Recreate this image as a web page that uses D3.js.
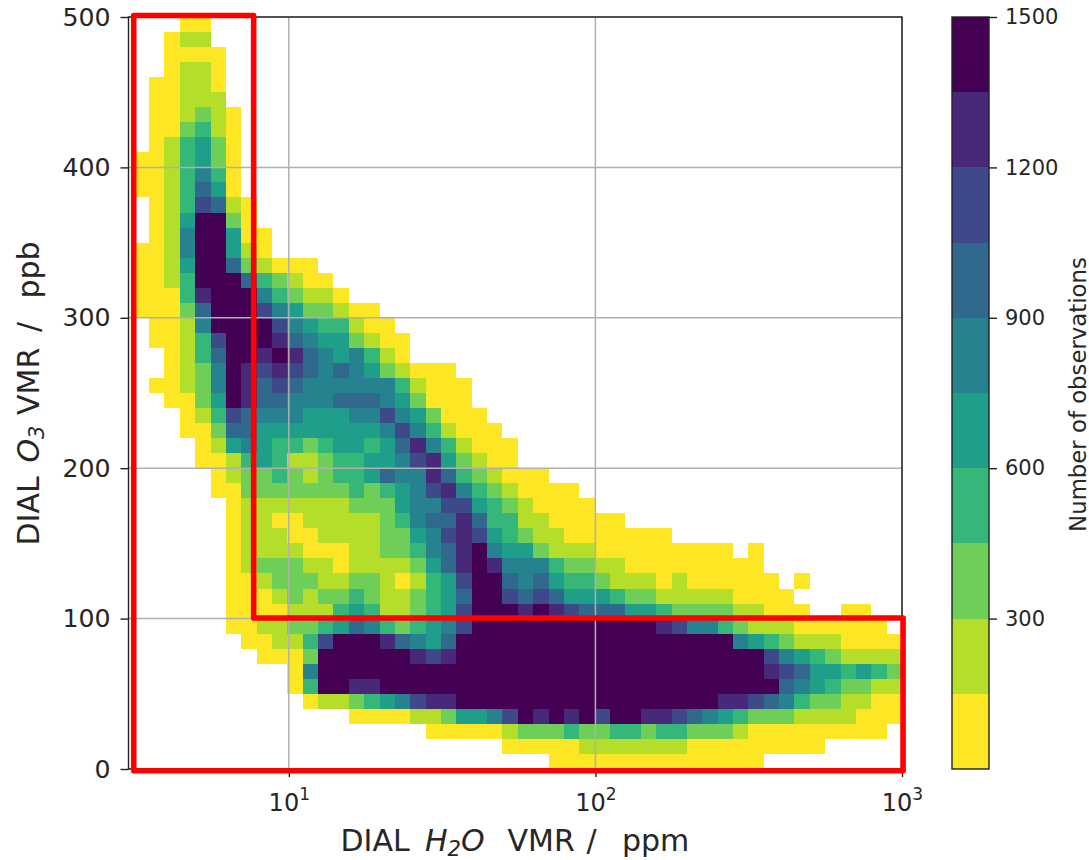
<!DOCTYPE html>
<html>
<head>
<meta charset="utf-8">
<script src="https://cdn.jsdelivr.net/npm/d3@7"></script>
<style>
    html, body { margin: 0; padding: 0; background: #fff; }
    svg { display: block; }
    text { font-family: "DejaVu Sans", sans-serif; fill: #262626; }
</style>
</head>
<body>
<svg id="chart" width="1089" height="860"></svg>
<script>
// band index per cell (0 = empty, 1..9 and a = 10), top row (490-500 ppb) first
const bandRows = [
    "00011",
    "00122",
    "001111",
    "001221",
    "011221",
    "011222",
    "0112321",
    "0113421",
    "0124531",
    "1124531",
    "1124641",
    "1124751",
    "01248721",
    "0125aa31",
    "0126aa511",
    "1126aa521",
    "1125aa732111",
    "1124aaa743211",
    "11149aaa643221",
    "11137aaa86533211",
    "01126aaaa86544211",
    "011248aaa976553211",
    "001247aa9a97656421",
    "001236a98987676532111",
    "011236a978766666642111",
    "001135a977666777653111",
    "00012487666555668653111",
    "000113775555555568642111",
    "0000125654434554579642111",
    "0000112454223445568953211",
    "000001233432344576697432111",
    "00000113333333434568964321111",
    "000000122222223335668854321111",
    "000000" + "1221122222" + "34677974422" + "11111",
    "000000" + "1222112222" + "335689854322" + "1111111",
    "000000" + "1222211122" + "334679a6553222" + "111111111" + "01",
    "000000" + "1233322122" + "223579a966643322" + "111111111",
    "000000" + "1123332233" + "212458aa767544322212" + "111111" + "01",
    "000000" + "1112323343" + "223457aa8787555433" + "22222" + "1111",
    "000000" + "1111" + "222454" + "223458aaa9a98777554" + "3333" + "22" + "111" + "00" + "11",
    "000000" + "1122334576" + "434568" + "aaaaaaaaaaaa" + "986643222" + "111111" + "0",
    "000000" + "0112248aaa" + "97657" + "aaaaaaaaaaaaaaaaaa" + "65432221111",
    "000000" + "001113aaaa" + "aa989" + "aaaaaaaaaaaaaaaaaaaa" + "865432222",
    "0000000000" + "16" + "aaaaaaaaaaaaaaaaaaaaaaaaaaaaa" + "987554543",
    "0000000000" + "14aa99" + "aaaaaaaaaaaaaaaaaaaaaaaaaa" + "76543322",
    "00000000000" + "12234" + "56899" + "aaaaaaaaaaaaaaaaa" + "998764332211",
    "00000000000000" + "11112235568a9a9a8aa" + "99876543332222111",
    "0000000000000000000" + "11111" + "2333433443443332" + "111111111" + "0",
    "000000000000000000000000" + "11111" + "2222222" + "111111111",
    "000000000000000000000000000" + "11111111111111"
];

const bandColors = ["#fde725", "#b5de2b", "#6ece58", "#35b779", "#1f9e89",
    "#26828e", "#31688e", "#3e4989", "#482878", "#440154"];
const colorTicks = [300, 600, 900, 1200, 1500];
const yTicks = [0, 100, 200, 300, 400, 500];
const xTicks = [10, 100, 1000];
const xBinCount = 50;
const xBinStart = 3.12;
const xBinEnd = 1000;
const ppbPerBin = 10;
const countPerBand = 150;

// the red L shaped outline, in data units
const outlineX = [3.12, 7.68, 7.68, 1008, 1008, 3.12];
const outlineY = [501, 501, 100.4, 100.4, -1.2, -1.2];

const plot = { left: 128.5, right: 902, top: 17, bottom: 769 };
const bar = { left: 952, right: 989 };

const svg = d3.select("#chart");

const x = d3.scaleLog().domain([3, 1000]).range([plot.left, plot.right]);
const y = d3.scaleLinear().domain([0, 500]).range([plot.bottom, plot.top]);
const cbar = d3.scaleLinear().domain([0, 1500]).range([plot.bottom, plot.top]);
const color = d3.scaleQuantize().domain([0, 1500]).range(bandColors);

let cells = [];
bandRows.forEach((row, r) => {
    row.split("").forEach((ch, c) => {
        let band = ch === "a" ? 10 : +ch;
        if (band === 0) return;
        cells.push({
            xBin: c,
            yBin: bandRows.length - 1 - r,
            count: band * countPerBand - countPerBand / 2
        });
    });
});

const binEdge = i => xBinStart * Math.pow(xBinEnd / xBinStart, i / xBinCount);

svg.append("g").selectAll("rect")
    .data(cells)
    .join("rect")
    .attr("x", d => x(binEdge(d.xBin)))
    .attr("width", d => x(binEdge(d.xBin + 1)) - x(binEdge(d.xBin)))
    .attr("y", d => y((d.yBin + 1) * ppbPerBin))
    .attr("height", d => y(d.yBin * ppbPerBin) - y((d.yBin + 1) * ppbPerBin))
    .attr("fill", d => color(d.count))
    .attr("shape-rendering", "crispEdges");

// grid sits on top of the cells
svg.append("g").selectAll("line")
    .data(xTicks)
    .join("line")
    .attr("x1", d => x(d)).attr("x2", d => x(d))
    .attr("y1", plot.top).attr("y2", plot.bottom)
    .attr("stroke", "#b0b0b0").attr("stroke-width", 1.5);
svg.append("g").selectAll("line")
    .data(yTicks)
    .join("line")
    .attr("x1", plot.left).attr("x2", plot.right)
    .attr("y1", d => y(d)).attr("y2", d => y(d))
    .attr("stroke", "#b0b0b0").attr("stroke-width", 1.5);

svg.append("rect")
    .attr("x", plot.left).attr("y", plot.top)
    .attr("width", plot.right - plot.left).attr("height", plot.bottom - plot.top)
    .attr("fill", "none").attr("stroke", "#222").attr("stroke-width", 1.4);

// axes
const xAxis = svg.append("g")
    .attr("transform", `translate(0,${plot.bottom})`)
    .call(d3.axisBottom(x).tickValues(xTicks).tickSize(8).tickPadding(6).tickFormat(""));
xAxis.select(".domain").remove();
xAxis.selectAll(".tick line").attr("stroke", "#222").attr("stroke-width", 1.4);
xAxis.selectAll(".tick").each(function (d) {
    let t = d3.select(this).select("text")
        .attr("font-size", 24)
        .attr("y", 41.7)
        .attr("dy", 0)
        .attr("text-anchor", "middle");
    t.append("tspan").text("10");
    t.append("tspan").attr("font-size", 17).attr("dy", -11).text(Math.log10(d));
});

const yAxis = svg.append("g")
    .attr("transform", `translate(${plot.left},0)`)
    .call(d3.axisLeft(y).tickValues(yTicks).tickSize(8).tickPadding(10));
yAxis.select(".domain").remove();
yAxis.selectAll(".tick line").attr("stroke", "#222").attr("stroke-width", 1.4);
yAxis.selectAll(".tick text").attr("font-size", 25.2);

// colorbar
svg.append("g").selectAll("rect")
    .data(bandColors)
    .join("rect")
    .attr("x", bar.left)
    .attr("width", bar.right - bar.left)
    .attr("y", (d, i) => cbar((i + 1) * countPerBand))
    .attr("height", (d, i) => cbar(i * countPerBand) - cbar((i + 1) * countPerBand))
    .attr("fill", d => d)
    .attr("shape-rendering", "crispEdges");
svg.append("rect")
    .attr("x", bar.left).attr("y", plot.top)
    .attr("width", bar.right - bar.left).attr("height", plot.bottom - plot.top)
    .attr("fill", "none").attr("stroke", "#222").attr("stroke-width", 1.4);

const cAxis = svg.append("g")
    .attr("transform", `translate(${bar.right},0)`)
    .call(d3.axisRight(cbar).tickValues(colorTicks).tickSize(8).tickPadding(8).tickFormat(d3.format("d")));
cAxis.select(".domain").remove();
cAxis.selectAll(".tick line").attr("stroke", "#222").attr("stroke-width", 1.4);
cAxis.selectAll(".tick text").attr("font-size", 21);

// labels, the word gaps are wider than normal spaces so each piece gets its own x
let xLabel = svg.append("text")
    .attr("y", 851)
    .attr("font-size", 30);
xLabel.append("tspan").attr("x", 340.5).text("DIAL");
xLabel.append("tspan").attr("x", 425).attr("font-style", "italic").text("H");
xLabel.append("tspan").attr("font-style", "italic").attr("font-size", 21).attr("dy", 5).text("2");
xLabel.append("tspan").attr("font-style", "italic").attr("dy", -5).text("O");
xLabel.append("tspan").attr("x", 507.5).text("VMR");
xLabel.append("tspan").attr("x", 586.5).text("/");
xLabel.append("tspan").attr("x", 622).text("ppm");

let yLabel = svg.append("text")
    .attr("transform", "translate(39.3,0) rotate(-90)")
    .attr("font-size", 30);
yLabel.append("tspan").attr("x", -545.5).text("DIAL");
yLabel.append("tspan").attr("x", -462.5).attr("font-style", "italic").text("O");
yLabel.append("tspan").attr("font-style", "italic").attr("font-size", 21).attr("dy", 5).text("3");
yLabel.append("tspan").attr("x", -415).attr("dy", -5).text("VMR");
yLabel.append("tspan").attr("x", -332).text("/");
yLabel.append("tspan").attr("x", -298.5).text("ppb");

svg.append("text")
    .attr("transform", "translate(1086,394.5) rotate(-90)")
    .attr("text-anchor", "middle")
    .attr("font-size", 22.8)
    .text("Number of observations");

// red outline goes over everything
const outline = d3.line().x(d => x(d[0])).y(d => y(d[1])).curve(d3.curveLinearClosed);
svg.append("path")
    .attr("d", outline(d3.zip(outlineX, outlineY)))
    .attr("fill", "none")
    .attr("stroke", "#ff0000")
    .attr("stroke-width", 5.6)
    .attr("stroke-linejoin", "round");
</script>
</body>
</html>
